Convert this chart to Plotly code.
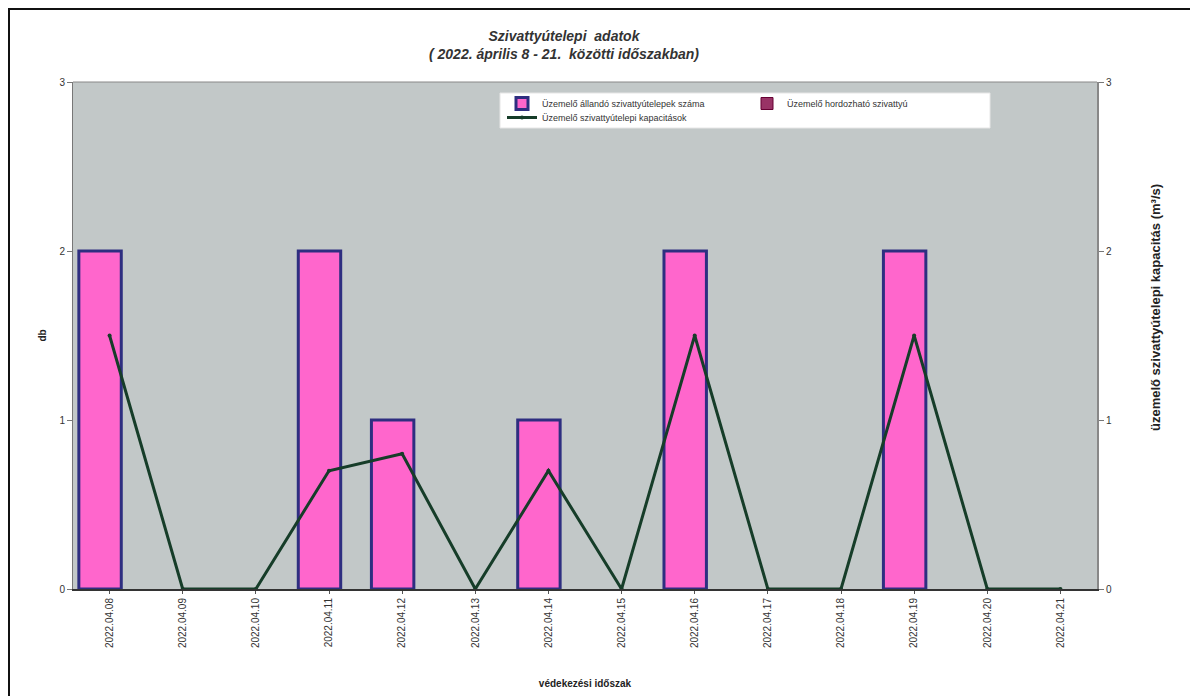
import plotly.graph_objects as go

categories = ["2022.04.08", "2022.04.09", "2022.04.10", "2022.04.11", "2022.04.12",
              "2022.04.13", "2022.04.14", "2022.04.15", "2022.04.16", "2022.04.17",
              "2022.04.18", "2022.04.19", "2022.04.20", "2022.04.21"]
allando = [2, 0, 0, 2, 1, 0, 1, 0, 2, 0, 0, 2, 0, 0]
hordozhato = [0] * 14
kapacitas = [1.5, 0, 0, 0.7, 0.8, 0, 0.7, 0, 1.5, 0, 0, 1.5, 0, 0]

# figure is drawn at an 8px page offset; work in figure coordinates
W, H = 1190, 688
L, R, T, B = 65, 1089, 74, 581
FONT = "Liberation Sans, Arial, sans-serif"

def px(x):
    return (x - L) / (R - L)

def py(y):
    return (B - y) / (B - T)

def nz(vals):
    return [v if v else None for v in vals]

fig = go.Figure()
fig.add_trace(go.Bar(
    x=categories, y=nz(allando), name="Üzemelő állandó szivattyútelepek száma",
    marker=dict(color="#ff66cc", line=dict(color="#2e2e80", width=3)),
    width=0.58, offset=-0.42, legend="legend",
))
fig.add_trace(go.Bar(
    x=categories, y=nz(hordozhato), name="Üzemelő hordozható szivattyú",
    marker=dict(color="#993366", line=dict(color="#660033", width=1)),
    width=0.3, offset=0.16, legend="legend",
))
fig.add_trace(go.Scatter(
    x=categories, y=kapacitas, name="Üzemelő szivattyútelepi kapacitások",
    mode="lines+markers", yaxis="y2", legend="legend2",
    line=dict(color="#163d29", width=3),
    marker=dict(color="#163d29", size=4),
))

legend_common = dict(
    orientation="h", xanchor="left", yanchor="top",
    bgcolor="rgba(0,0,0,0)", borderwidth=0,
    font=dict(size=9, family=FONT, color="#333333"),
    entrywidth=200, itemwidth=30, traceorder="normal",
)

fig.update_layout(
    width=W, height=H,
    margin=dict(l=L, r=W - R, t=T, b=H - B, autoexpand=False),
    paper_bgcolor="white",
    plot_bgcolor="#c2c8c8",
    barmode="overlay",
    showlegend=True,
    font=dict(family=FONT, color="#222222"),
    title=dict(
        text="<b><i>Szivattyútelepi  adatok<br>( 2022. április 8 - 21.  közötti időszakban)</i></b>",
        x=px(556), xref="paper", xanchor="center",
        y=1 - 33 / H, yanchor="middle",
        font=dict(size=14, family=FONT, color="#333333"),
    ),
    legend=dict(x=px(494), y=py(81), **legend_common),
    legend2=dict(x=px(494), y=py(95), **legend_common),
    xaxis=dict(
        type="category", tickangle=-90,
        tickfont=dict(size=10, family=FONT, color="#333333"),
        showgrid=False, showline=True, linecolor="#333333", linewidth=2,
        ticks="outside", ticklen=3, tickcolor="#555555",
        title=dict(text="<b>védekezési időszak</b>", font=dict(size=10, family=FONT, color="#222222"), standoff=33),
        range=[-0.5, 13.5],
    ),
    yaxis=dict(
        range=[0, 3], dtick=1, showgrid=False,
        showline=True, linecolor="#777777", linewidth=1,
        ticks="outside", ticklen=5, tickcolor="#777777",
        tickfont=dict(size=10, family=FONT, color="#333333"),
        title=dict(text="<b>db</b>", font=dict(size=10, family=FONT, color="#222222"), standoff=10),
        zeroline=False,
    ),
    yaxis2=dict(
        range=[0, 3], dtick=1, overlaying="y", side="right",
        showgrid=False, showline=True, linecolor="#888888", linewidth=2,
        ticks="outside", ticklen=5, tickcolor="#777777",
        tickfont=dict(size=10, family=FONT, color="#333333"),
        zeroline=False,
    ),
    annotations=[
        dict(text="<b>üzemelő szivattyútelepi kapacitás (m³/s)</b>",
             xref="paper", yref="paper", x=px(1147), y=py(300),
             xanchor="center", yanchor="middle", textangle=-90, showarrow=False,
             font=dict(size=13, family=FONT, color="#222222")),
    ],
    shapes=[
        dict(type="line", xref="paper", yref="paper",
             x0=px(1), x1=px(1), y0=py(H), y1=py(0),
             line=dict(color="#111111", width=2), layer="below"),
        dict(type="line", xref="paper", yref="paper",
             x0=px(0), x1=px(W), y0=py(1), y1=py(1),
             line=dict(color="#111111", width=2), layer="below"),
        dict(type="line", xref="paper", yref="paper",
             x0=0, x1=1, y0=1, y1=1, line=dict(color="#888888", width=1)),
        dict(type="rect", xref="paper", yref="paper",
             x0=px(492), x1=px(982), y0=py(120), y1=py(85),
             fillcolor="white", line=dict(color="#e6e6e6", width=1), layer="above"),
    ],
)

fig.write_html("out.html")
